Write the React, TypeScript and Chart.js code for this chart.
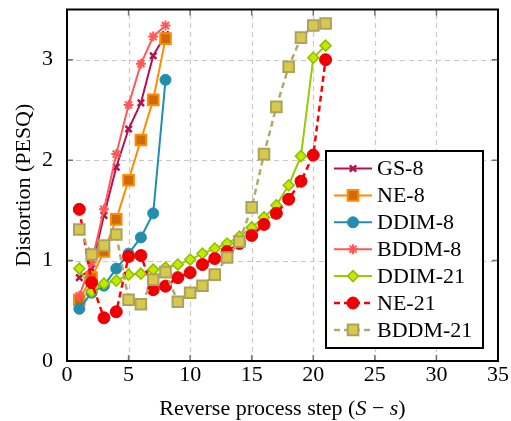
import React, { useEffect, useRef } from 'react';
import { Chart, registerables } from 'chart.js';
import { drawPoint } from 'chart.js/helpers';

Chart.register(...registerables);

const steps8 = [1, 2, 3, 4, 5, 6, 7, 8];
const steps21 = [1, 2, 3, 4, 5, 6, 7, 8, 9, 10, 11, 12, 13, 14, 15, 16, 17, 18, 19, 20, 21];

const gs8 = [0.83, 0.92, 1.45, 1.93, 2.31, 2.57, 3.04, 3.25];
const ne8 = [0.61, 0.83, 1.09, 1.41, 1.8, 2.2, 2.6, 3.21];
const ddim8 = [0.52, 0.68, 0.75, 0.92, 1.07, 1.23, 1.47, 2.8];
const bddm8 = [0.65, 0.98, 1.51, 2.06, 2.55, 2.96, 3.23, 3.34];
const ddim21 = [0.92, 0.69, 0.77, 0.8, 0.86, 0.87, 0.91, 0.93, 0.96, 1.01, 1.07, 1.12, 1.17, 1.24, 1.33, 1.43, 1.55, 1.75, 2.04, 3.02, 3.14];
const ne21 = [1.51, 0.78, 0.43, 0.49, 1.04, 1.05, 0.71, 0.745, 0.83, 0.88, 0.96, 1.02, 1.09, 1.17, 1.25, 1.36, 1.47, 1.61, 1.79, 2.05, 3.0];
const bddm21 = [1.31, 1.06, 1.15, 1.26, 0.61, 0.565, 0.81, 0.885, 0.59, 0.68, 0.75, 0.86, 1.03, 1.19, 1.53, 2.06, 2.53, 2.93, 3.22, 3.34, 3.36];

const seriesNames = ['GS-8', 'NE-8', 'DDIM-8', 'BDDM-8', 'DDIM-21', 'NE-21', 'BDDM-21'];

const xTitleParts: [string, boolean][] = [
  ['Reverse process step (', false],
  ['S', true],
  [' \u2212 ', false],
  ['s', true],
  [')', false],
];
const yTitle = 'Distortion (PESQ)';

const FONT = '"Liberation Serif", "DejaVu Serif", serif';

const pts = (xs: number[], ys: number[]) => xs.map((x, i) => ({ x, y: ys[i] }));

const framePlugin = {
  id: 'framePlugin',
  beforeDatasetsDraw(chart: any) {
    const { ctx, chartArea: a, scales } = chart;
    ctx.save();
    ctx.strokeStyle = '#c8c8c8';
    ctx.lineWidth = 1.2;
    ctx.setLineDash([5, 4]);
    scales.x.ticks.forEach((t: any) => {
      if (t.value <= scales.x.min || t.value >= scales.x.max) return;
      const px = Math.round(scales.x.getPixelForValue(t.value)) + 0.5;
      ctx.beginPath();
      ctx.moveTo(px, a.bottom);
      ctx.lineTo(px, a.top);
      ctx.stroke();
    });
    scales.y.ticks.forEach((t: any) => {
      if (t.value <= scales.y.min || t.value >= scales.y.max) return;
      const py = Math.round(scales.y.getPixelForValue(t.value)) + 0.5;
      ctx.beginPath();
      ctx.moveTo(a.left, py);
      ctx.lineTo(a.right, py);
      ctx.stroke();
    });
    ctx.restore();
  },
  afterDatasetsDraw(chart: any) {
    const { ctx, chartArea: a, scales } = chart;
    ctx.save();
    // inner tick marks
    ctx.strokeStyle = '#707070';
    ctx.lineWidth = 1.5;
    ctx.setLineDash([]);
    const tl = 6;
    scales.x.ticks.forEach((t: any) => {
      if (t.value <= scales.x.min || t.value >= scales.x.max) return;
      const px = scales.x.getPixelForValue(t.value);
      ctx.beginPath();
      ctx.moveTo(px, a.bottom);
      ctx.lineTo(px, a.bottom - tl);
      ctx.moveTo(px, a.top);
      ctx.lineTo(px, a.top + tl);
      ctx.stroke();
    });
    scales.y.ticks.forEach((t: any) => {
      if (t.value <= scales.y.min || t.value >= scales.y.max) return;
      const py = scales.y.getPixelForValue(t.value);
      ctx.beginPath();
      ctx.moveTo(a.left, py);
      ctx.lineTo(a.left + tl, py);
      ctx.moveTo(a.right, py);
      ctx.lineTo(a.right - tl, py);
      ctx.stroke();
    });
    // frame
    ctx.strokeStyle = '#000';
    ctx.lineWidth = 2;
    ctx.strokeRect(a.left, a.top, a.right - a.left, a.bottom - a.top);

    // legend
    const lx = 326, ly = 151, lw = 157, lh = 197;
    ctx.fillStyle = '#fff';
    ctx.fillRect(lx, ly, lw, lh);
    ctx.strokeStyle = '#000';
    ctx.lineWidth = 2;
    ctx.strokeRect(lx, ly, lw, lh);
    chart.data.datasets.forEach((ds: any, i: number) => {
      const y = 168.5 + i * 26.9;
      ctx.save();
      ctx.strokeStyle = ds.borderColor;
      ctx.lineWidth = ds.borderWidth;
      ctx.setLineDash(ds.borderDash || []);
      ctx.beginPath();
      ctx.moveTo(334, y);
      ctx.lineTo(372, y);
      ctx.stroke();
      ctx.setLineDash([]);
      ctx.fillStyle = ds.pointBackgroundColor;
      ctx.strokeStyle = ds.pointBorderColor;
      ctx.lineWidth = ds.pointBorderWidth;
      drawPoint(ctx, { pointStyle: ds.pointStyle, rotation: 0, radius: ds.pointRadius, borderWidth: ds.pointBorderWidth }, 353, y);
      ctx.restore();
      ctx.fillStyle = '#000';
      ctx.font = `22px ${FONT}`;
      ctx.textAlign = 'left';
      ctx.textBaseline = 'middle';
      ctx.fillText(ds.label, 377, y + 1);
    });

    // x title with italic math
    const normal = `22px ${FONT}`;
    const italic = `italic 22px ${FONT}`;
    let total = 0;
    const widths = xTitleParts.map(([s, it]) => {
      ctx.font = it ? italic : normal;
      const w = ctx.measureText(s).width;
      total += w;
      return w;
    });
    let cx = (a.left + a.right) / 2 - total / 2;
    ctx.fillStyle = '#000';
    ctx.textAlign = 'left';
    ctx.textBaseline = 'alphabetic';
    xTitleParts.forEach(([s, it], i) => {
      ctx.font = it ? italic : normal;
      ctx.fillText(s, cx, 415);
      cx += widths[i];
    });

    // y title
    ctx.save();
    ctx.translate(24, (a.top + a.bottom) / 2);
    ctx.rotate(-Math.PI / 2);
    ctx.font = normal;
    ctx.textAlign = 'center';
    ctx.textBaseline = 'middle';
    ctx.fillText(yTitle, 0, 0);
    ctx.restore();
    ctx.restore();
  },
};

export default function App() {
  const ref = useRef<HTMLCanvasElement | null>(null);
  useEffect(() => {
    document.body.style.margin = '0';
    const canvas = ref.current!;
    const chart = new Chart(canvas, {
      type: 'line',
      data: {
        datasets: [
          {
            label: seriesNames[0], data: pts(steps8, gs8), order: 0,
            borderColor: '#b3124f', borderWidth: 2, pointStyle: 'crossRot', pointRadius: 4.5,
            pointBorderWidth: 2.5, pointBackgroundColor: '#b3124f', pointBorderColor: '#b3124f',
          },
          {
            label: seriesNames[1], data: pts(steps8, ne8), order: -1,
            borderColor: '#ff8c00', borderWidth: 2, pointStyle: 'rect', pointRadius: 7.5,
            pointBorderWidth: 2, pointBackgroundColor: '#d06a05', pointBorderColor: '#ff8c00',
          },
          {
            label: seriesNames[2], data: pts(steps8, ddim8), order: -2,
            borderColor: '#238db0', borderWidth: 2, pointStyle: 'circle', pointRadius: 5.5,
            pointBorderWidth: 1, pointBackgroundColor: '#238db0', pointBorderColor: '#238db0',
          },
          {
            label: seriesNames[3], data: pts(steps8, bddm8), order: -3,
            borderColor: '#ff5858', borderWidth: 2, pointStyle: 'star', pointRadius: 5,
            pointBorderWidth: 2, pointBackgroundColor: '#ff5858', pointBorderColor: '#ff5858',
          },
          {
            label: seriesNames[4], data: pts(steps21, ddim21), order: -4,
            borderColor: '#99cc00', borderWidth: 2, pointStyle: 'rectRot', pointRadius: 5.5,
            pointBorderWidth: 1.5, pointBackgroundColor: '#c4e800', pointBorderColor: '#8fc000',
          },
          {
            label: seriesNames[5], data: pts(steps21, ne21), order: -5,
            borderColor: '#ff0000', borderWidth: 2.5, borderDash: [6, 4], pointStyle: 'circle', pointRadius: 6,
            pointBorderWidth: 1, pointBackgroundColor: '#f00000', pointBorderColor: '#e60000',
          },
          {
            label: seriesNames[6], data: pts(steps21, bddm21), order: -6,
            borderColor: '#b2aa6c', borderWidth: 2.5, borderDash: [6, 4], pointStyle: 'rect', pointRadius: 7.5,
            pointBorderWidth: 2, pointBackgroundColor: '#d8ca48', pointBorderColor: '#aaa262',
          },
        ],
      },
      options: {
        responsive: false,
        animation: false,
        devicePixelRatio: 1,
        layout: { padding: { top: 4, right: 13, left: 0, bottom: 0 } },
        plugins: { legend: { display: false }, tooltip: { enabled: false } },
        elements: { line: { tension: 0 } },
        scales: {
          x: {
            type: 'linear', min: 0, max: 35,
            grid: { display: false },
            border: { display: false },
            ticks: { stepSize: 5, padding: -5, color: '#000', font: { family: FONT, size: 22, lineHeight: 1.0 } },
            afterFit: (s: any) => { s.height = 60; s.paddingLeft = 0; s.paddingRight = 0; },
          },
          y: {
            type: 'linear', min: 0, max: 3.5,
            grid: { display: false },
            border: { display: false },
            ticks: { stepSize: 1, padding: 6, color: '#000', font: { family: FONT, size: 22 } },
            afterBuildTicks: (s: any) => { s.ticks = s.ticks.filter((t: any) => Number.isInteger(t.value)); },
            afterFit: (s: any) => { s.width = 67; s.paddingTop = 0; s.paddingBottom = 0; },
          },
        },
      },
      plugins: [framePlugin],
    } as any);
    return () => chart.destroy();
  }, []);
  return (
    <div style={{ position: 'absolute', left: 0, top: 0, width: 511, height: 421 }}>
      <canvas ref={ref} width={511} height={421} style={{ width: 511, height: 421 }} />
    </div>
  );
}
